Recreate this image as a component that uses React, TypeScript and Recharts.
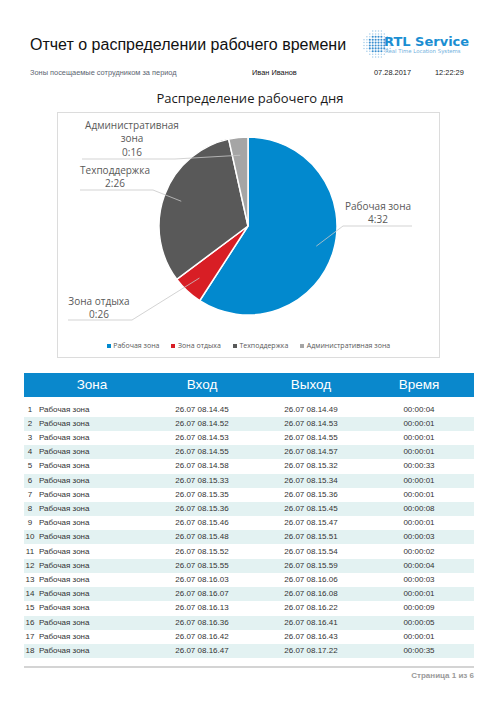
import { Legend, Pie, PieChart } from "recharts";

const zones = ["Рабочая зона", "Зона отдыха", "Техподдержка", "Административная зона"];
const zoneMinutes = [272, 26, 146, 16];
const zoneTimes = ["4:32", "0:26", "2:26", "0:16"];
const labelLines = [["Рабочая зона"], ["Зона отдыха"], ["Техподдержка"], ["Административная", "зона"]];

const headers = ["Зона", "Вход", "Выход", "Время"];
const rowZone = "Рабочая зона";
const entryTimes = [
  "26.07 08.14.45", "26.07 08.14.52", "26.07 08.14.53", "26.07 08.14.55", "26.07 08.14.58",
  "26.07 08.15.33", "26.07 08.15.35", "26.07 08.15.36", "26.07 08.15.46", "26.07 08.15.48",
  "26.07 08.15.52", "26.07 08.15.55", "26.07 08.16.03", "26.07 08.16.07", "26.07 08.16.13",
  "26.07 08.16.36", "26.07 08.16.42", "26.07 08.16.47",
];
const exitTimes = [
  "26.07 08.14.49", "26.07 08.14.53", "26.07 08.14.55", "26.07 08.14.57", "26.07 08.15.32",
  "26.07 08.15.34", "26.07 08.15.36", "26.07 08.15.45", "26.07 08.15.47", "26.07 08.15.51",
  "26.07 08.15.54", "26.07 08.15.59", "26.07 08.16.06", "26.07 08.16.08", "26.07 08.16.22",
  "26.07 08.16.41", "26.07 08.16.43", "26.07 08.17.22",
];
const durations = [
  "00:00:04", "00:00:01", "00:00:01", "00:00:01", "00:00:33", "00:00:01", "00:00:01", "00:00:08",
  "00:00:01", "00:00:03", "00:00:02", "00:00:04", "00:00:03", "00:00:01", "00:00:09", "00:00:05",
  "00:00:01", "00:00:35",
];

const COLORS = ["#0289ce", "#d81e25", "#595959", "#a5a5a5"];
const RADIAN = Math.PI / 180;
const CHART_FONT = "'Open Sans', 'Noto Sans', sans-serif";
const TABLE_FONT = "'Liberation Sans', Arial, sans-serif";

// label text + leader elbow/end, as offsets from the pie centre
const LABEL_LAYOUT = [
  { tx: 130, ty: -20, elbow: [95, 0], end: [164, 0] },
  { tx: -149, ty: 75, elbow: [-116, 94], end: [-180, 94] },
  { tx: -133, ty: -56, elbow: [-95, -36], end: [-168, -36] },
  { tx: -116, ty: -101, elbow: [-73, -67], end: [-166, -67] },
];

const pieData = zones.map((name, i) => ({ name, value: zoneMinutes[i], fill: COLORS[i] }));

function renderLabel(props: any) {
  const { cx, cy, midAngle, outerRadius, index } = props;
  const lay = LABEL_LAYOUT[index];
  const r = outerRadius * 0.8;
  const ax = cx + r * Math.cos(-midAngle * RADIAN);
  const ay = cy + r * Math.sin(-midAngle * RADIAN);
  const lines = [...labelLines[index], zoneTimes[index]];
  const step = lines.length > 2 ? 13.3 : 12.5;
  return (
    <g>
      <polyline
        points={`${ax},${ay} ${cx + lay.elbow[0]},${cy + lay.elbow[1]} ${cx + lay.end[0]},${cy + lay.end[1]}`}
        fill="none"
        stroke="#c8c8c8"
        strokeWidth={0.8}
      />
      <text
        x={cx + lay.tx}
        y={cy + lay.ty}
        textAnchor="middle"
        fill="#595959"
        fontSize={10}
        fontFamily={CHART_FONT}
      >
        {lines.map((l, k) => (
          <tspan key={k} x={cx + lay.tx} y={cy + lay.ty + k * step} dominantBaseline="central">
            {l}
          </tspan>
        ))}
      </text>
    </g>
  );
}

function ChartLegend() {
  return (
    <div
      style={{
        display: "flex",
        justifyContent: "center",
        gap: 12,
        fontFamily: CHART_FONT,
        fontSize: 7,
        color: "#595959",
        lineHeight: "10px",
      }}
    >
      {zones.map((z, i) => (
        <span key={z} style={{ display: "flex", alignItems: "center", gap: 2.5 }}>
          <span style={{ width: 4, height: 4, background: COLORS[i], display: "inline-block" }} />
          {z}
        </span>
      ))}
    </div>
  );
}

function Logo() {
  const dots = [];
  for (let i = 0; i < 10; i++) {
    for (let j = 0; j < 10; j++) {
      const x = 2 + i * 2.9;
      const y = 2 + j * 2.9;
      const d = Math.hypot(x - 15, y - 15);
      if (d > 14) continue;
      const inner = d < 9;
      dots.push(<circle key={`${i}-${j}`} cx={x} cy={y} r={inner ? 1.05 : 0.75} fill={inner ? "#3a8fd0" : "#a5cdea"} />);
    }
  }
  return (
    <div style={{ position: "absolute", left: 362, top: 29 }}>
      <svg width={30} height={30} style={{ position: "absolute", left: 0, top: 0 }}>
        {dots}
      </svg>
      <div
        style={{
          position: "absolute",
          left: 22,
          top: 5,
          fontFamily: "'DejaVu Sans', sans-serif",
          fontWeight: 700,
          fontSize: 13,
          color: "#1a8ed2",
          whiteSpace: "nowrap",
          lineHeight: "15px",
        }}
      >
        RTL Service
      </div>
      <div
        style={{
          position: "absolute",
          left: 23,
          top: 19,
          fontFamily: "'DejaVu Sans', sans-serif",
          fontSize: 5.4,
          color: "#6fb0dd",
          whiteSpace: "nowrap",
          lineHeight: "7px",
        }}
      >
        Real Time Location Systems
      </div>
    </div>
  );
}

const colCenters = [92, 202, 311, 419];
const ROW_TOP = 402.5;
const ROW_H = 14.2;

export default function App() {
  const abs = (left: number, top: number, extra: any = {}) => ({
    position: "absolute" as const,
    left,
    top,
    whiteSpace: "nowrap" as const,
    ...extra,
  });
  return (
    <div style={{ position: "absolute", left: 0, top: 0, width: 500, height: 708, background: "#fff", overflow: "hidden" }}>
      <div style={abs(30, 34, { fontFamily: TABLE_FONT, fontSize: 16, lineHeight: "22px", color: "#111" })}>
        Отчет о распределении рабочего времени
      </div>
      <Logo />
      <div style={abs(30, 68, { fontFamily: TABLE_FONT, fontSize: 7.4, lineHeight: "10px", color: "#5a6470" })}>
        Зоны посещаемые сотрудником за период
      </div>
      <div style={abs(252, 68, { fontFamily: TABLE_FONT, fontSize: 7.4, lineHeight: "10px", color: "#111" })}>
        Иван Иванов
      </div>
      <div style={abs(374, 68, { fontFamily: TABLE_FONT, fontSize: 7.4, lineHeight: "10px", color: "#222" })}>
        07.28.2017
      </div>
      <div style={abs(435, 68, { fontFamily: TABLE_FONT, fontSize: 7.4, lineHeight: "10px", color: "#222" })}>
        12:22:29
      </div>

      <div
        style={abs(0, 89, {
          width: 500,
          textAlign: "center",
          fontFamily: CHART_FONT,
          fontSize: 13,
          lineHeight: "18px",
          color: "#1a1a1a",
        })}
      >
        Распределение рабочего дня
      </div>

      <div style={abs(57, 112, { width: 383, height: 246, border: "1px solid #dcdcdc", boxSizing: "border-box" })}>
        <PieChart width={381} height={244} margin={{ top: 0, right: 0, bottom: 0, left: 0 }}>
          <Pie
            data={pieData}
            dataKey="value"
            nameKey="name"
            cx={190}
            cy={113}
            outerRadius={89}
            startAngle={90}
            endAngle={-270}
            stroke="#ffffff"
            strokeWidth={1.5}
            label={renderLabel}
            labelLine={false}
            isAnimationActive={false}
          />
          <Legend content={() => <ChartLegend />} wrapperStyle={{ left: 0, width: 381, bottom: 6 }} />
        </PieChart>
      </div>

      <div style={abs(24, 373, { width: 450, height: 24, background: "#0a88cc" })} />
      {headers.map((h, i) => (
        <div
          key={h}
          style={abs(colCenters[i] - 50, 376, {
            width: 100,
            textAlign: "center",
            fontFamily: TABLE_FONT,
            fontSize: 13.5,
            lineHeight: "18px",
            color: "#fff",
          })}
        >
          {h}
        </div>
      ))}

      {entryTimes.map((entry, i) => {
        const top = ROW_TOP + i * ROW_H;
        const cell = { fontFamily: TABLE_FONT, fontSize: 8, lineHeight: `${ROW_H}px`, color: "#333" };
        return (
          <div key={i}>
            <div style={abs(24, top, { width: 450, height: ROW_H, background: i % 2 === 1 ? "#e3f2f2" : "#fff" })} />
            <div style={abs(24, top, { ...cell, width: 12, textAlign: "center" })}>{i + 1}</div>
            <div style={abs(39, top, cell)}>{rowZone}</div>
            <div style={abs(colCenters[1] - 40, top, { ...cell, width: 80, textAlign: "center" })}>{entry}</div>
            <div style={abs(colCenters[2] - 40, top, { ...cell, width: 80, textAlign: "center" })}>{exitTimes[i]}</div>
            <div style={abs(colCenters[3] - 40, top, { ...cell, width: 80, textAlign: "center" })}>{durations[i]}</div>
          </div>
        );
      })}

      <div style={abs(24, 666, { width: 450, height: 1.5, background: "#d4d4d4" })} />
      <div
        style={abs(324, 671, {
          width: 150,
          textAlign: "right",
          fontFamily: TABLE_FONT,
          fontSize: 8,
          fontWeight: 700,
          lineHeight: "10px",
          color: "#9a9a9a",
        })}
      >
        Страница 1 из 6
      </div>
    </div>
  );
}
